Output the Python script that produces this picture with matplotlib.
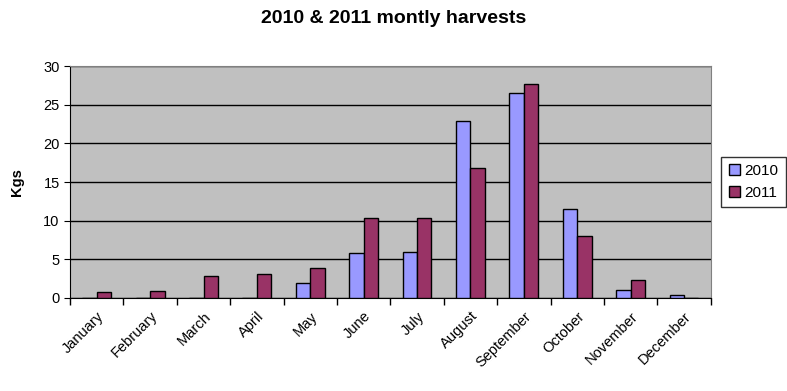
import numpy as np
import matplotlib.pyplot as plt

plt.rcParams['font.family'] = ['Liberation Sans', 'DejaVu Sans']

months = ['January', 'February', 'March', 'April', 'May', 'June', 'July',
          'August', 'September', 'October', 'November', 'December']
kgs_2010 = [0, 0, 0, 0, 1.9, 5.8, 5.9, 22.9, 26.5, 11.5, 1.0, 0.35]
kgs_2011 = [0.75, 0.9, 2.85, 3.1, 3.85, 10.3, 10.3, 16.8, 27.7, 8.0, 2.3, 0]

fig = plt.figure(figsize=(7.87, 3.91), dpi=100)
ax = fig.add_axes([0.089, 0.238, 0.814, 0.593])
ax.set_facecolor('#C0C0C0')

x = np.arange(len(months))
w = 0.27
ax.bar(x - w / 2, kgs_2010, w, color='#9999FF', edgecolor='black', linewidth=1, label='2010', zorder=3)
ax.bar(x + w / 2, kgs_2011, w, color='#993366', edgecolor='black', linewidth=1, label='2011', zorder=3)

ax.set_xlim(-0.5, len(months) - 0.5)
ax.set_ylim(0, 30)
ax.set_yticks(range(0, 31, 5))
ax.yaxis.grid(True, color='black', linewidth=1)
ax.set_axisbelow(True)

ax.set_xticks(x)
ax.set_xticklabels(months, rotation=45, ha='right', rotation_mode='anchor', fontsize=10.5)
ax.set_xticks(np.arange(-0.5, len(months)), minor=True)
ax.tick_params(axis='x', which='major', length=0, pad=8)
ax.tick_params(axis='x', which='minor', length=5, direction='out', width=1)
ax.tick_params(axis='y', length=4, direction='out', labelsize=10.5)

for side in ['top', 'right']:
    ax.spines[side].set_color('#808080')
for side in ['left', 'bottom']:
    ax.spines[side].set_color('black')

ax.set_ylabel('Kgs', fontsize=10.5, fontweight='bold', labelpad=14)
fig.suptitle('2010 & 2011 montly harvests', fontsize=14, fontweight='bold', y=0.975)

leg = ax.legend(loc='center left', bbox_to_anchor=(1.0, 0.5), frameon=True, fancybox=False,
                edgecolor='black', fontsize=11, handlelength=0.7, handleheight=0.7,
                handletextpad=0.3, borderpad=0.5, borderaxespad=0.7)

fig.savefig('out.png', dpi=100)
